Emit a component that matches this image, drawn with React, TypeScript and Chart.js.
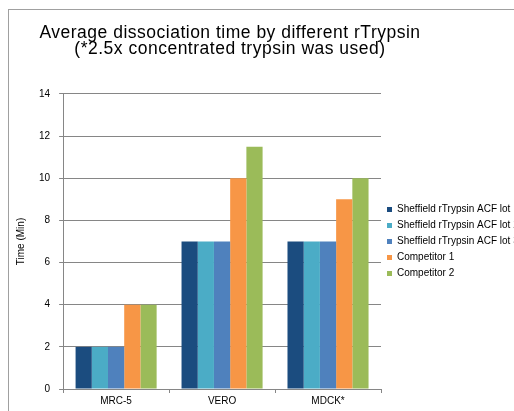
import React, { useEffect, useRef } from "react";
import { Chart, registerables } from "chart.js";

Chart.register(...registerables);

const categories = ["MRC-5", "VERO", "MDCK*"];
const seriesNames = [
  "Sheffield rTrypsin ACF lot 1",
  "Sheffield rTrypsin ACF lot 2",
  "Sheffield rTrypsin ACF lot 3",
  "Competitor 1",
  "Competitor 2",
];
const lot1 = [2, 7, 7];
const lot2 = [2, 7, 7];
const lot3 = [2, 7, 7];
const competitor1 = [4, 10, 9];
const competitor2 = [4, 11.5, 10];
const seriesColors = ["#1B4C7F", "#4BACC6", "#4F81BD", "#F79646", "#9BBB59"];
const titleLines = ["Average dissociation time by different rTrypsin", "(*2.5x concentrated trypsin was used)"];
const yAxisTitle = "Time (Min)";

const FONT = "'Liberation Sans', Arial, sans-serif";
const CANVAS_LEFT = -54;
const CANVAS_W = 568;
const CANVAS_TOP = 10;
const CANVAS_H = 401;

export default function App() {
  const canvasRef = useRef<HTMLCanvasElement | null>(null);

  useEffect(() => {
    if (!canvasRef.current) return;
    const values = [lot1, lot2, lot3, competitor1, competitor2];
    const chart = new Chart(canvasRef.current, {
      type: "bar",
      data: {
        labels: categories,
        datasets: seriesNames.map((name, i) => ({
          label: name,
          data: values[i],
          backgroundColor: seriesColors[i],
          borderWidth: 0,
          categoryPercentage: 0.765,
          barPercentage: 1.0,
        })),
      },
      options: {
        responsive: false,
        animation: false,
        devicePixelRatio: 1,
        layout: { padding: { left: 0, right: 0, top: 0, bottom: 2 } },
        plugins: {
          title: {
            display: true,
            text: titleLines,
            fullSize: true,
            color: "#000",
            font: { family: FONT, size: 17.5, weight: "normal", lineHeight: 0.914 },
            padding: { top: 15, bottom: 37 },
          },
          legend: {
            display: true,
            position: "right",
            align: "center",
            fullSize: false,
            maxWidth: 133,
            labels: {
              boxWidth: 5,
              boxHeight: 5,
              padding: 6,
              color: "#000",
              font: { family: FONT, size: 10 },
            },
          },
          tooltip: { enabled: false },
        },
        scales: {
          x: {
            grid: {
              display: true,
              drawOnChartArea: false,
              offset: true,
              tickLength: 4,
              color: "#868686",
            },
            border: { display: true, color: "#868686" },
            ticks: {
              color: "#000",
              padding: 2,
              font: { family: FONT, size: 10 },
            },
          },
          y: {
            min: 0,
            max: 14,
            ticks: {
              stepSize: 2,
              color: "#000",
              padding: 9,
              font: { family: FONT, size: 10 },
            },
            grid: { color: "#868686", tickLength: 4 },
            border: { display: true, color: "#868686" },
            title: {
              display: true,
              text: yAxisTitle,
              color: "#000",
              font: { family: FONT, size: 10 },
              padding: { top: 69, bottom: 3 },
            },
          },
        },
      },
    });

    // Slightly widen the title's letter spacing to match the reference rendering.
    const tb: any = (chart as any).titleBlock;
    if (tb && typeof tb.draw === "function") {
      const origDraw = tb.draw.bind(tb);
      tb.draw = (...args: any[]) => {
        const ctx: any = chart.ctx;
        ctx.save();
        if ("letterSpacing" in ctx) ctx.letterSpacing = "0.5px";
        origDraw(...args);
        ctx.restore();
      };
      chart.draw();
    }

    return () => chart.destroy();
  }, []);

  return (
    <div style={{ position: "fixed", left: 0, top: 0, width: 514, height: 411, overflow: "hidden", background: "#fff" }}>
      <div
        style={{
          position: "absolute",
          left: 8,
          top: 9,
          width: 800,
          height: 600,
          border: "1px solid #a0a0a0",
        }}
      />
      <div style={{ position: "absolute", left: CANVAS_LEFT, top: CANVAS_TOP, width: CANVAS_W, height: CANVAS_H }}>
        <canvas
          ref={canvasRef}
          width={CANVAS_W}
          height={CANVAS_H}
          style={{ width: CANVAS_W, height: CANVAS_H, display: "block" }}
        />
      </div>
    </div>
  );
}
